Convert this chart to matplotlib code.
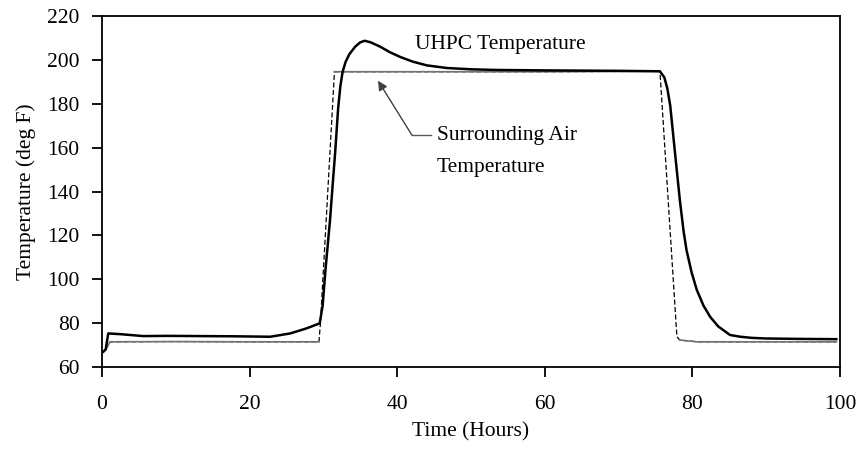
import matplotlib
matplotlib.use("Agg")
from matplotlib import pyplot as plt

# UHPC temperature
uhpc_t = [0.2, 0.5, 0.85, 2.4, 5.6, 9, 13.3, 18, 22.8, 25.5, 27.7, 29.5,
          29.9, 30.3, 30.9, 31.3, 31.6, 32.0, 32.3, 32.6, 33.0, 33.5, 34.3,
          35.0, 35.6, 36.4, 37.7, 39.0, 40.5, 42.1, 44.0, 46.7, 50, 53.5,
          60, 70, 75.6, 76.2, 76.6, 77.0, 77.6, 78.3, 78.8, 79.2, 79.9,
          80.6, 81.5, 82.4, 83.5, 85.1, 86.5, 88, 90, 95, 99.5]
uhpc_T = [67, 68, 75.3, 75, 74.1, 74.2, 74.1, 74, 73.8, 75.3, 77.6, 79.9,
          88, 105, 127, 145, 158, 178, 188, 194.5, 199, 202.5, 206,
          208, 208.7, 208, 206, 203.5, 201.2, 199.2, 197.5, 196.3, 195.7, 195.4,
          195.2, 195, 194.8, 192, 187, 179, 159, 136, 122, 113.3, 103,
          95.1, 88, 82.9, 78.5, 74.6, 73.8, 73.3, 73, 72.8, 72.7]

# Surrounding air temperature
air_t = [0.5, 1.1, 10, 20, 29.4, 29.6, 31.5, 45, 60, 75.6, 77.9, 78.3, 80.6, 90, 99.5]
air_T = [68, 71.5, 71.6, 71.5, 71.5, 80, 194.6, 194.6, 194.6, 194.8, 73.8, 72.3, 71.5, 71.5, 71.5]

plt.rcParams['font.family'] = ['Liberation Serif', 'DejaVu Serif']

fig = plt.figure(figsize=(8.62, 4.53), dpi=100)
ax = fig.add_axes([0.1183, 0.1898, 0.8562, 0.7749])

# air: dashed ramps, grey solid plateaus
ax.plot(air_t, air_T, color='black', linestyle=(0, (4, 2)), linewidth=0.9)
ax.plot(air_t[:5], air_T[:5], color='0.45', linewidth=1.2)
ax.plot(air_t[6:10], air_T[6:10], color='0.45', linewidth=1.2)
ax.plot(air_t[11:], air_T[11:], color='0.45', linewidth=1.2)

ax.plot(uhpc_t, uhpc_T, color='black', linewidth=1.8)

ax.text(42.4, 207, "UHPC Temperature", fontsize=15.5, va='center', ha='left')
ax.text(45.4, 165.5, "Surrounding Air", fontsize=15.5, va='center', ha='left')
ax.text(45.4, 151, "Temperature", fontsize=15.5, va='center', ha='left')
ax.plot([44.6, 42.0], [165.7, 165.7], color='0.35', linewidth=1)
ax.annotate("", xy=(37.4, 190.5), xytext=(42.0, 165.7),
            arrowprops=dict(arrowstyle='-|>', color='0.25', lw=1,
                            mutation_scale=14, shrinkA=0, shrinkB=0))

ax.set_xlim(0, 100)
ax.set_ylim(60, 220)
ax.set_xticks([0, 20, 40, 60, 80, 100])
ax.set_yticks(range(60, 221, 20))
ax.tick_params(axis='both', direction='out', length=7, width=1.3, labelsize=15.5)
ax.tick_params(axis='x', pad=13)
ax.tick_params(axis='y', pad=9)
for s in ax.spines.values():
    s.set_linewidth(1.3)

ax.set_xlabel("Time (Hours)", fontsize=15.5, labelpad=6)
ax.set_ylabel("Temperature (deg F)", fontsize=15.5, labelpad=8)

fig.savefig("out.png", dpi=100)
